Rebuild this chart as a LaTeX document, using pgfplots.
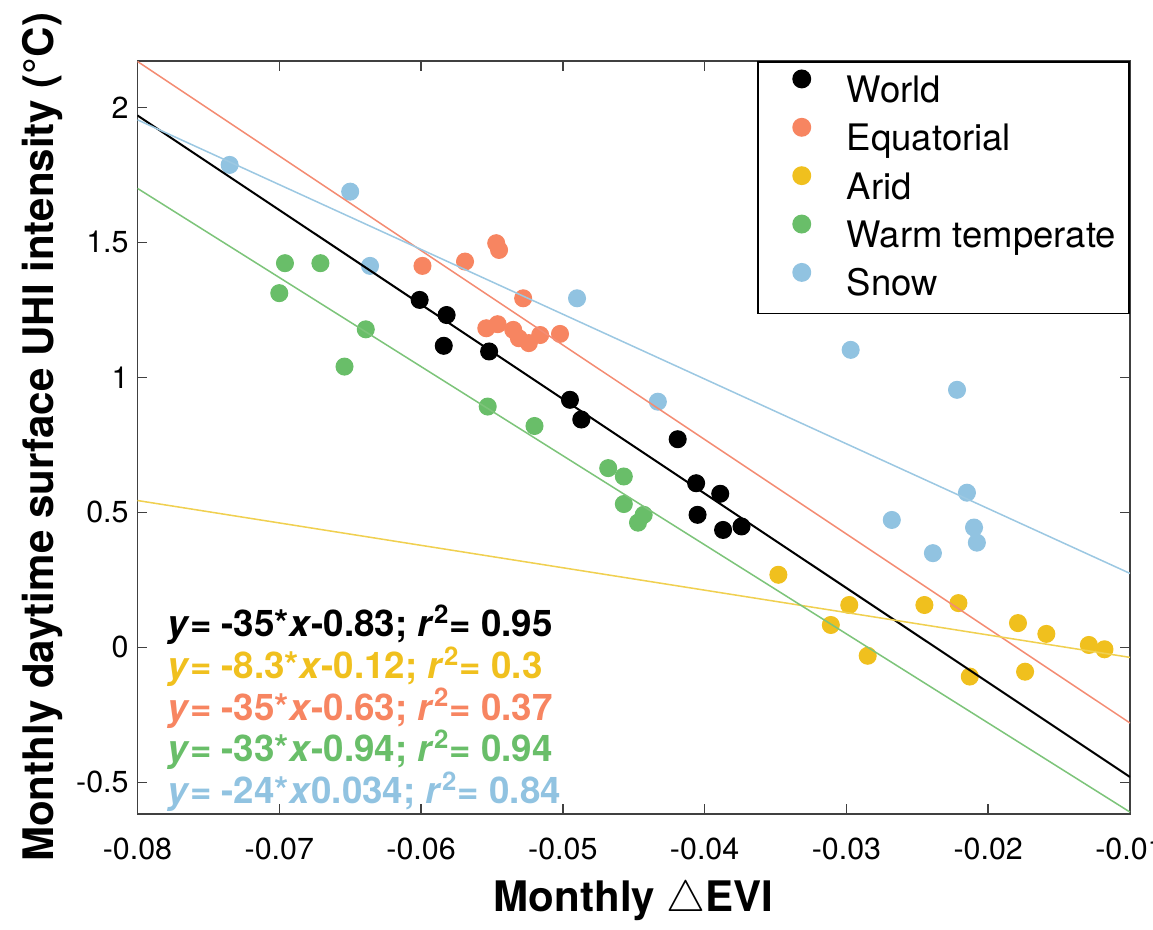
\documentclass[border=0pt]{standalone}
\usepackage{pgfplots}
\pgfplotsset{compat=1.18}
\usepackage{fontspec}
\setmainfont{TeX Gyre Heros}
\usetikzlibrary{calc}
\definecolor{cEq}{RGB}{247,133,97}
\definecolor{cAr}{RGB}{240,192,30}
\definecolor{cWt}{RGB}{105,190,105}
\definecolor{cSn}{RGB}{145,195,225}
\definecolor{lEq}{RGB}{244,140,115}
\definecolor{lAr}{RGB}{240,208,80}
\definecolor{lWt}{RGB}{125,196,122}
\definecolor{lSn}{RGB}{156,200,226}
\newlength{\px}\setlength{\px}{0.0138768cm}
\begin{document}
\begin{tikzpicture}
\begin{axis}[
  scale only axis, width=992.5\px, height=753.3\px,
  xmin=-0.08, xmax=-0.01, ymin=-0.617, ymax=2.173,
  clip mode=individual, scaled x ticks=false, scaled y ticks=false,
  xtick={-0.08,-0.07,-0.06,-0.05,-0.04,-0.03,-0.02,-0.01},
  xticklabels={-0.08,-0.07,-0.06,-0.05,-0.04,-0.03,-0.02,-0.01},
  ytick={-0.5,0,0.5,1,1.5,2},
  yticklabels={-0.5,0,0.5,1,1.5,2},
  tick align=inside, major tick length=10\px,
  tick style={black!75, line width=0.6pt},
  axis line style={black!75, line width=0.75pt},
  ticklabel style={font=\fontsize{12}{14}\selectfont},
  xticklabel style={yshift=-15\px},
  xlabel={Monthly $\triangle$EVI},
  ylabel={Monthly daytime surface UHI intensity (°C)},
  label style={font=\bfseries\fontsize{16.6}{20}\selectfont},
  xlabel style={at={(axis description cs:0.5,-0.130)}, anchor=base},
  ylabel style={at={(axis description cs:-0.0851,0.5)}, anchor=base},
  legend style={at={(1,1)}, anchor=north east, draw=black, line width=0.75pt, fill=white,
    inner xsep=8\px, inner ysep=8.8\px, row sep=7.6\px,
    font=\fontsize{14.4}{16}\selectfont,
    cells={anchor=west, inner sep=0pt, text height=25\px, text depth=0pt}},
  legend image code/.code={\path[draw=none] (0,0) -- (76\px,0); \draw[#1] plot coordinates {(36\px,12.8\px)};},
]
\coordinate (sw) at (rel axis cs:0,0);
\coordinate (ne) at (rel axis cs:1,1);
\addplot[only marks, mark=*, mark size=8.5\px, black, mark options={fill=black, draw=black}] coordinates {
(-0.0601,1.287) (-0.0582,1.231) (-0.0584,1.117) (-0.0552,1.096) (-0.0495,0.917) (-0.0487,0.844)
(-0.0419,0.771) (-0.0406,0.608) (-0.0389,0.569) (-0.0405,0.491) (-0.0387,0.435) (-0.0374,0.448)};
\addlegendentry{World}
\addplot[only marks, mark=*, mark size=8.5\px, cEq, mark options={fill=cEq, draw=cEq}] coordinates {
(-0.0599,1.413) (-0.0569,1.429) (-0.0547,1.497) (-0.0545,1.472) (-0.0528,1.293) (-0.0554,1.182)
(-0.0546,1.197) (-0.0535,1.176) (-0.0531,1.145) (-0.0524,1.127) (-0.0516,1.157) (-0.0502,1.161)};
\addlegendentry{Equatorial}
\addplot[only marks, mark=*, mark size=8.5\px, cAr, mark options={fill=cAr, draw=cAr}] coordinates {
(-0.0348,0.269) (-0.0298,0.157) (-0.0245,0.157) (-0.0221,0.164) (-0.0311,0.083) (-0.0179,0.090)
(-0.0159,0.050) (-0.0129,0.009) (-0.0118,-0.007) (-0.0285,-0.031) (-0.0174,-0.090) (-0.0213,-0.108)};
\addlegendentry{Arid}
\addplot[only marks, mark=*, mark size=8.5\px, cWt, mark options={fill=cWt, draw=cWt}] coordinates {
(-0.0696,1.423) (-0.0671,1.423) (-0.0700,1.312) (-0.0639,1.178) (-0.0654,1.040) (-0.0553,0.892)
(-0.0520,0.820) (-0.0468,0.664) (-0.0457,0.633) (-0.0457,0.531) (-0.0443,0.491) (-0.0447,0.462)};
\addlegendentry{Warm temperate}
\addplot[only marks, mark=*, mark size=8.5\px, cSn, mark options={fill=cSn, draw=cSn}] coordinates {
(-0.0735,1.787) (-0.0650,1.688) (-0.0636,1.413) (-0.0490,1.293) (-0.0297,1.102) (-0.0222,0.954)
(-0.0433,0.910) (-0.0215,0.573) (-0.0268,0.472) (-0.0210,0.444) (-0.0208,0.388) (-0.0239,0.349)};
\addlegendentry{Snow}
% fitted lines
\addplot[forget plot, black, line width=0.8pt] coordinates {(-0.08,1.97) (-0.01,-0.48)};
\addplot[forget plot, lEq, line width=0.6pt] coordinates {(-0.08,2.17) (-0.01,-0.28)};
\addplot[forget plot, lAr, line width=0.6pt] coordinates {(-0.08,0.544) (-0.01,-0.037)};
\addplot[forget plot, lWt, line width=0.6pt] coordinates {(-0.08,1.70) (-0.01,-0.61)};
\addplot[forget plot, lSn, line width=0.6pt] coordinates {(-0.08,1.954) (-0.01,0.274)};
% equations
\node[anchor=base west, inner sep=0pt, font=\bfseries\fontsize{14.5}{16}\selectfont, text=black] at (axis cs:-0.07792,0.040) {\textit{y}= -35*\textit{x}-0.83; \textit{r}\textsuperscript{2}= 0.95};
\node[anchor=base west, inner sep=0pt, font=\bfseries\fontsize{14.5}{16}\selectfont, text=cAr] at (axis cs:-0.07792,-0.1144) {\textit{y}= -8.3*\textit{x}-0.12; \textit{r}\textsuperscript{2}= 0.3};
\node[anchor=base west, inner sep=0pt, font=\bfseries\fontsize{14.5}{16}\selectfont, text=cEq] at (axis cs:-0.07792,-0.2689) {\textit{y}= -35*\textit{x}-0.63; \textit{r}\textsuperscript{2}= 0.37};
\node[anchor=base west, inner sep=0pt, font=\bfseries\fontsize{14.5}{16}\selectfont, text=cWt] at (axis cs:-0.07792,-0.4233) {\textit{y}= -33*\textit{x}-0.94; \textit{r}\textsuperscript{2}= 0.94};
\node[anchor=base west, inner sep=0pt, font=\bfseries\fontsize{14.5}{16}\selectfont, text=cSn] at (axis cs:-0.07792,-0.5777) {\textit{y}= -24*\textit{x}0.034; \textit{r}\textsuperscript{2}= 0.84};
\end{axis}
\pgfresetboundingbox
\path[use as bounding box] ($(sw)+(-137.5\px,-116\px)$) rectangle ($(ne)+(23\px,60.7\px)$);
\end{tikzpicture}
\end{document}
